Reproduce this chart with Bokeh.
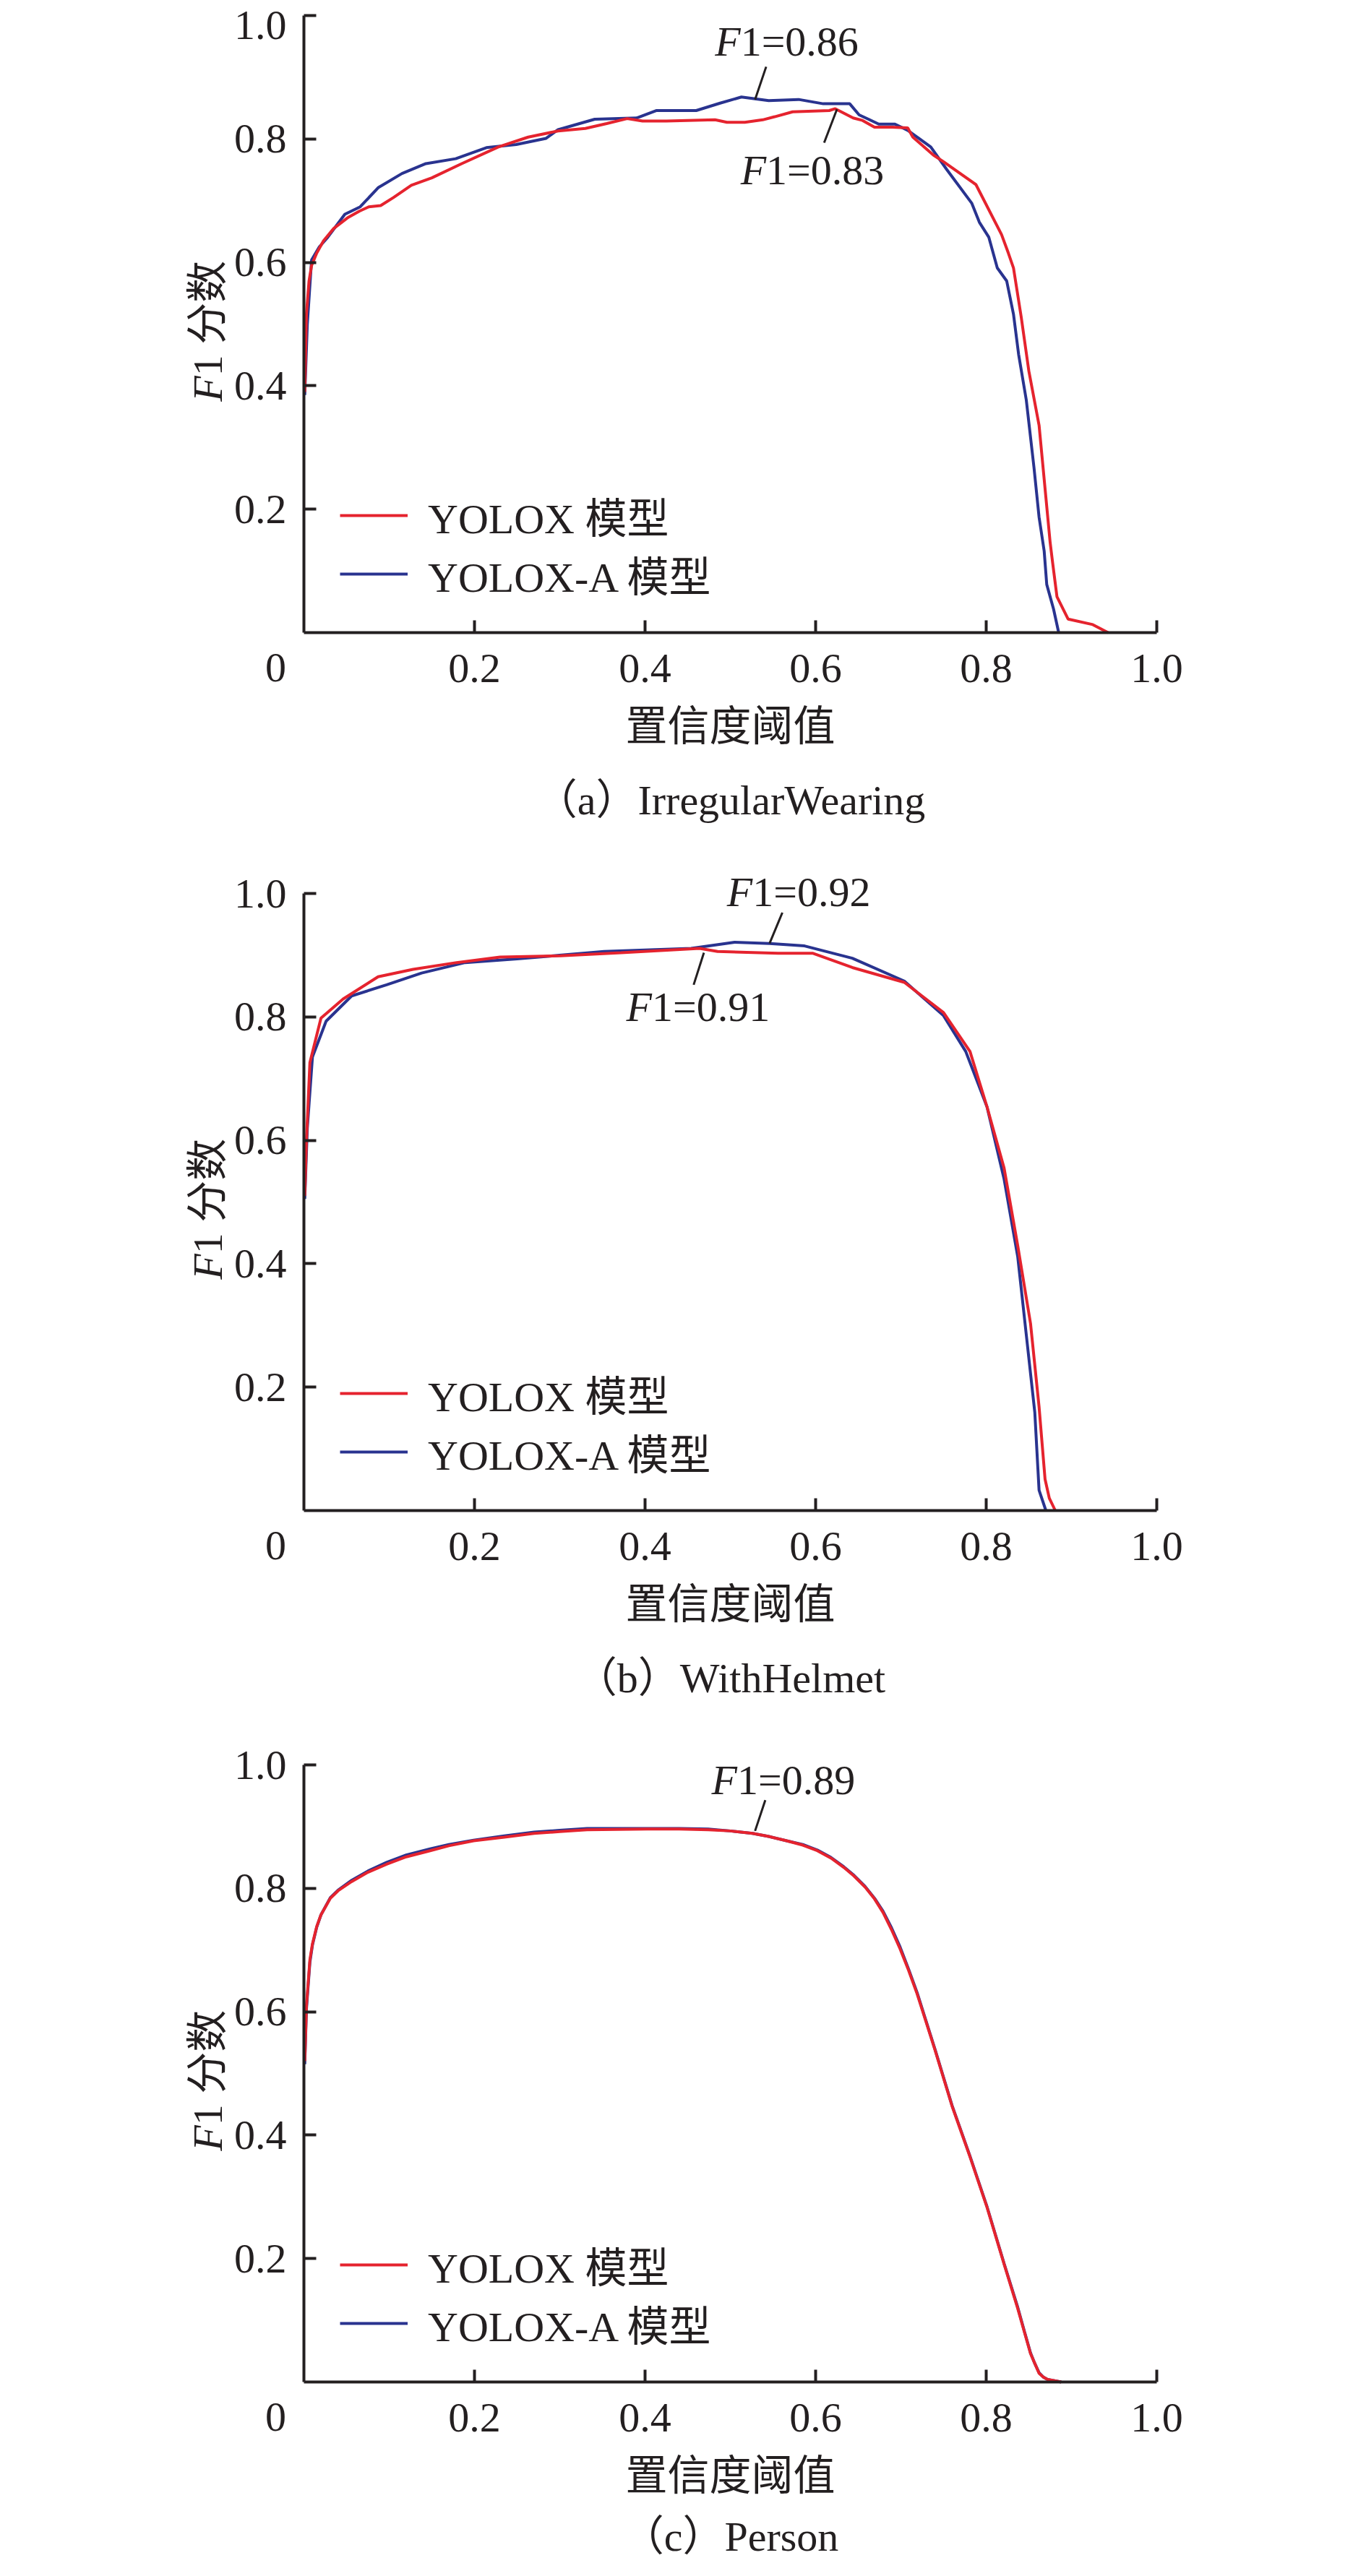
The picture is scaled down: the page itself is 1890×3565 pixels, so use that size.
import math
from bokeh.plotting import figure
from bokeh.models import (Range1d, FixedTicker, NumeralTickFormatter, Label, Legend,
                          LegendItem, ColumnDataSource, LinearAxis)
from bokeh.layouts import column
from bokeh.embed import file_html
from bokeh.resources import INLINE

# ---------------- data ----------------
# panel (a) IrregularWearing
a_red_x = [0.001, 0.003, 0.006, 0.009, 0.015, 0.023, 0.035, 0.051, 0.065, 0.076, 0.09, 0.105, 0.126, 0.15,
           0.185, 0.228, 0.263, 0.298, 0.33, 0.355, 0.379, 0.397, 0.425, 0.482, 0.496, 0.517, 0.538, 0.552,
           0.573, 0.616, 0.623, 0.644, 0.655, 0.669, 0.69, 0.708, 0.714, 0.738, 0.75, 0.788, 0.818, 0.826,
           0.832, 0.841, 0.85, 0.862, 0.875, 0.878, 0.883, 0.896, 0.925, 0.943]
a_red_y = [0.39, 0.517, 0.57, 0.595, 0.615, 0.635, 0.655, 0.672, 0.683, 0.690, 0.692, 0.705, 0.725, 0.737,
           0.760, 0.787, 0.803, 0.813, 0.817, 0.825, 0.833, 0.829, 0.829, 0.831, 0.827, 0.827, 0.831, 0.836,
           0.844, 0.846, 0.849, 0.834, 0.83, 0.819, 0.819, 0.818, 0.803, 0.774, 0.763, 0.726, 0.645, 0.615,
           0.591, 0.512, 0.424, 0.336, 0.146, 0.112, 0.058, 0.022, 0.013, 0.0]
a_blue_x = [0.001, 0.004, 0.009, 0.018, 0.027, 0.048, 0.066, 0.087, 0.115, 0.143, 0.178, 0.214, 0.249, 0.284,
            0.298, 0.341, 0.39, 0.413, 0.46, 0.488, 0.513, 0.545, 0.58, 0.609, 0.64, 0.651, 0.662, 0.674,
            0.693, 0.708, 0.735, 0.754, 0.783, 0.792, 0.803, 0.813, 0.824, 0.832, 0.838, 0.847, 0.856, 0.862,
            0.868, 0.871, 0.879, 0.885]
a_blue_y = [0.385, 0.5, 0.604, 0.625, 0.639, 0.678, 0.690, 0.721, 0.744, 0.760, 0.768, 0.786, 0.791, 0.801,
            0.815, 0.832, 0.834, 0.846, 0.846, 0.858, 0.868, 0.862, 0.864, 0.857, 0.857, 0.839, 0.832, 0.824,
            0.824, 0.814, 0.787, 0.75, 0.696, 0.665, 0.641, 0.591, 0.57, 0.516, 0.451, 0.377, 0.268, 0.187,
            0.132, 0.078, 0.038, 0.0]

# panel (b) WithHelmet
b_red_x = [0.001, 0.003, 0.007, 0.02, 0.046, 0.087, 0.128, 0.179, 0.23, 0.301, 0.372, 0.464, 0.485, 0.556,
           0.597, 0.643, 0.704, 0.75, 0.781, 0.801, 0.821, 0.837, 0.852, 0.862, 0.869, 0.874, 0.881]
b_red_y = [0.51, 0.6, 0.726, 0.798, 0.829, 0.865, 0.877, 0.888, 0.897, 0.899, 0.904, 0.911, 0.906, 0.903,
           0.903, 0.880, 0.856, 0.807, 0.744, 0.654, 0.555, 0.429, 0.303, 0.168, 0.051, 0.02, 0.0]
b_blue_x = [0.001, 0.004, 0.01, 0.026, 0.056, 0.097, 0.138, 0.189, 0.25, 0.352, 0.454, 0.505, 0.546, 0.587,
            0.643, 0.704, 0.75, 0.776, 0.801, 0.821, 0.837, 0.847, 0.857, 0.862, 0.87]
b_blue_y = [0.505, 0.62, 0.735, 0.793, 0.834, 0.852, 0.871, 0.888, 0.894, 0.906, 0.911, 0.921, 0.919, 0.915,
            0.895, 0.858, 0.802, 0.744, 0.654, 0.537, 0.411, 0.285, 0.159, 0.033, 0.0]

# panel (c) Person
c_x = [0.001, 0.003, 0.007, 0.01, 0.015, 0.02, 0.031, 0.04, 0.056, 0.075, 0.097, 0.12, 0.148, 0.17, 0.199,
       0.235, 0.27, 0.30, 0.332, 0.403, 0.44, 0.474, 0.50, 0.526, 0.545, 0.566, 0.585, 0.602, 0.618, 0.633,
       0.645, 0.658, 0.669, 0.679, 0.689, 0.699, 0.709, 0.719, 0.74, 0.76, 0.781, 0.801, 0.821, 0.837, 0.845,
       0.852, 0.857, 0.862, 0.867, 0.872, 0.888]
c_red_y = [0.52, 0.61, 0.684, 0.71, 0.738, 0.757, 0.784, 0.796, 0.811, 0.826, 0.839, 0.851, 0.861, 0.869,
           0.877, 0.883, 0.889, 0.892, 0.895, 0.896, 0.896, 0.895, 0.893, 0.889, 0.884, 0.877, 0.870, 0.861,
           0.849, 0.834, 0.82, 0.802, 0.783, 0.761, 0.733, 0.702, 0.667, 0.629, 0.538, 0.447, 0.365, 0.283,
           0.191, 0.119, 0.08, 0.046, 0.03, 0.014, 0.008, 0.004, 0.0]
c_blue_y = [0.515, 0.605, 0.68, 0.708, 0.737, 0.757, 0.785, 0.797, 0.813, 0.828, 0.842, 0.854, 0.864, 0.871,
            0.878, 0.885, 0.891, 0.894, 0.897, 0.897, 0.897, 0.896, 0.893, 0.889, 0.884, 0.877, 0.871, 0.862,
            0.85, 0.835, 0.821, 0.803, 0.784, 0.763, 0.736, 0.705, 0.669, 0.631, 0.539, 0.448, 0.366, 0.284,
            0.192, 0.121, 0.081, 0.047, 0.03, 0.015, 0.008, 0.004, 0.0]

series_names = ["YOLOX 模型", "YOLOX-A 模型"]
x_ticks = [0.2, 0.4, 0.6, 0.8, 1.0]
y_ticks = [0.2, 0.4, 0.6, 0.8, 1.0]
origin_label = "0"
top_label = "1.0"
x_title = "置信度阈值"
y_title_italic = "F"
y_title_rest = "1 分数"
captions = ["（a）IrregularWearing", "（b）WithHelmet", "（c）Person"]

# annotations: (x at the F|1 boundary, y, value text) and leader segments
a_notes = [(0.512, 0.958, "1=0.86"), (0.542, 0.749, "1=0.83")]
a_leaders = [(0.542, 0.917, 0.529, 0.864), (0.625, 0.848, 0.610, 0.794)]
b_notes = [(0.526, 1.002, "1=0.92"), (0.408, 0.816, "1=0.91")]
b_leaders = [(0.561, 0.969, 0.546, 0.919), (0.469, 0.904, 0.457, 0.852)]
c_notes = [(0.508, 0.975, "1=0.89")]
c_leaders = [(0.541, 0.943, 0.529, 0.893)]

# ---------------- style ----------------
RED = "#E5232E"
BLUE = "#29338F"
INK = "#231F20"
FONT = "Liberation Serif, Noto Sans CJK SC"
CJK = "Noto Sans CJK SC"
FS = "58px"

W = 1874
PX_X = 1180.0     # pixels per unit on x
PX_Y = 854.0      # pixels per unit on y
LEFT = 420


def make_panel(height, top, rx, ry, bx, by, notes, leaders, caption, caption_px=232,
               top_label_inside=False):
    bottom = height - top - PX_Y
    x0 = -LEFT / PX_X
    x1 = (W - LEFT) / PX_X
    y0 = -bottom / PX_Y
    y1 = 1 + top / PX_Y
    p = figure(width=W, height=height, x_range=Range1d(x0, x1), y_range=Range1d(y0, y1),
               output_backend="svg", toolbar_location=None, x_axis_type=None, y_axis_type=None,
               min_border=0)
    p.outline_line_color = None
    p.grid.visible = False
    p.background_fill_color = "white"
    p.border_fill_color = "white"

    xaxis = LinearAxis(fixed_location=0, bounds=(0, 1), ticker=FixedTicker(ticks=x_ticks),
                       formatter=NumeralTickFormatter(format="0.0"))
    yaxis = LinearAxis(fixed_location=0, bounds=(0, 1), ticker=FixedTicker(ticks=y_ticks),
                       formatter=NumeralTickFormatter(format="0.0"))
    for ax in (xaxis, yaxis):
        ax.axis_line_color = INK
        ax.axis_line_width = 4
        ax.major_tick_line_color = INK
        ax.major_tick_line_width = 4
        ax.major_tick_in = 17
        ax.major_tick_out = 0
        ax.minor_tick_line_color = None
        ax.major_label_text_font = FONT
        ax.major_label_text_font_size = FS
        ax.major_label_text_color = INK
    xaxis.major_label_standoff = 30
    yaxis.major_label_standoff = 24
    if top_label_inside:
        # the top tick label sits at the page edge: draw it a little lower so it stays inside
        yaxis.major_label_overrides = {1: ""}
        p.add_layout(Label(x=-24 / PX_X, y=1 - 13 / PX_Y, text=top_label, text_align="right",
                           text_baseline="middle", text_font=FONT, text_font_size=FS,
                           text_color=INK))
    p.add_layout(xaxis, "below")
    p.add_layout(yaxis, "left")

    rb = p.line(bx, by, line_color=BLUE, line_width=4)
    rr = p.line(rx, ry, line_color=RED, line_width=4)

    # legend: one item per legend box, centred at the row heights of the reference
    for r, name, row_px in ((rr, series_names[0], 162), (rb, series_names[1], 81)):
        lg = Legend(items=[LegendItem(label=name, renderers=[r])],
                    location=(LEFT + 50, bottom + row_px - 45), label_text_font=FONT,
                    label_text_font_size=FS, label_text_color=INK, glyph_width=94,
                    glyph_height=90, label_height=90, label_standoff=28, spacing=0,
                    padding=0, margin=0, border_line_color=None, background_fill_alpha=0)
        p.add_layout(lg)

    # origin label, axis titles and caption
    p.add_layout(Label(x=-0.033, y=-48 / PX_Y, text=origin_label, text_align="center",
                       text_baseline="middle", text_font=FONT, text_font_size=FS, text_color=INK))
    p.add_layout(Label(x=0.5, y=-124 / PX_Y, text=x_title, text_align="center",
                       text_baseline="middle", text_font=CJK, text_font_size=FS, text_color=INK))
    p.add_layout(Label(x=0.5, y=-caption_px / PX_Y, text=caption, text_align="center",
                       text_baseline="middle", text_font=FONT, text_font_size=FS, text_color=INK))
    p.add_layout(Label(x=-133 / PX_X, y=0.416, text=y_title_italic, angle=math.pi / 2,
                       text_align="right", text_baseline="alphabetic", text_font=FONT,
                       text_font_size=FS, text_font_style="italic", text_color=INK))
    p.add_layout(Label(x=-133 / PX_X, y=0.416, text=y_title_rest, angle=math.pi / 2,
                       text_align="left", text_baseline="alphabetic", text_font=FONT,
                       text_font_size=FS, text_color=INK))

    # F1 annotations
    for (nx, ny, txt) in notes:
        p.add_layout(Label(x=nx, y=ny, text="F", text_align="right", text_baseline="middle",
                           text_font=FONT, text_font_size=FS, text_font_style="italic",
                           text_color=INK))
        p.add_layout(Label(x=nx, y=ny, text=txt, text_align="left", text_baseline="middle",
                           text_font=FONT, text_font_size=FS, text_color=INK))
    src = ColumnDataSource(dict(x0=[l[0] for l in leaders], y0=[l[1] for l in leaders],
                                x1=[l[2] for l in leaders], y1=[l[3] for l in leaders]))
    p.segment("x0", "y0", "x1", "y1", source=src, line_color=INK, line_width=3)
    return p


pa = make_panel(1172, 21, a_red_x, a_red_y, a_blue_x, a_blue_y, a_notes, a_leaders, captions[0],
                top_label_inside=True)
pb = make_panel(1210, 64, b_red_x, b_red_y, b_blue_x, b_blue_y, b_notes, b_leaders, captions[1])
pc = make_panel(1167, 60, c_x, c_red_y, c_x, c_blue_y, c_notes, c_leaders, captions[2],
                caption_px=214)

layout = column(pa, pb, pc, spacing=0)
open("out.html", "w").write(file_html(layout, INLINE))
